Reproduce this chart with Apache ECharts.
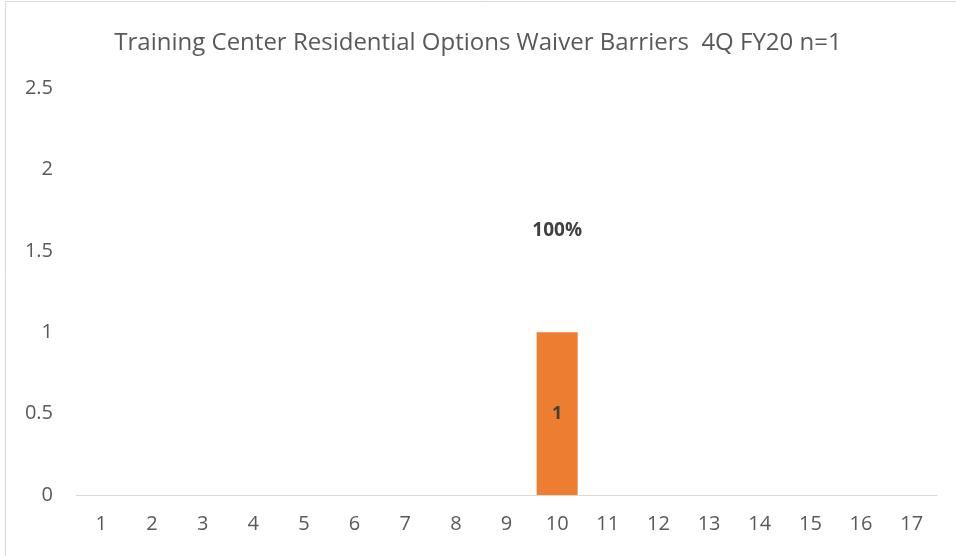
<!DOCTYPE html>
<html>
<head>
<meta charset="utf-8">
<script src="https://cdn.jsdelivr.net/npm/echarts@6/dist/echarts.min.js"></script>
<style>
  html, body { margin: 0; padding: 0; background: #fff; }
  #main { width: 956px; height: 556px; }
</style>
</head>
<body>
<div id="main"></div>
<script>
var categories = ['1', '2', '3', '4', '5', '6', '7', '8', '9', '10', '11', '12', '13', '14', '15', '16', '17'];
var counts = [0, 0, 0, 0, 0, 0, 0, 0, 0, 1, 0, 0, 0, 0, 0, 0, 0];
var percents = ['', '', '', '', '', '', '', '', '', '100%', '', '', '', '', '', '', ''];
var yTicks = [0, 0.5, 1, 1.5, 2, 2.5];

var myChart = echarts.init(document.getElementById('main'));
var font = 'Open Sans';

option = {
    animation: false,
    title: {
        text: 'Training Center Residential Options Waiver Barriers  4Q FY20 n=1',
        left: 'center',
        top: 26,
        textStyle: { fontFamily: font, fontSize: 24, fontWeight: 'normal', color: '#595959' }
    },
    graphic: [{
        type: 'polyline',
        shape: { points: [[5.5, 556], [5.5, 1.5], [956, 1.5]] },
        style: { stroke: '#d9d9d9', lineWidth: 1, fill: null },
        silent: true
    }],
    grid: { left: 76, right: 19, top: 88, bottom: 61 },
    xAxis: {
        type: 'category',
        data: categories,
        axisLine: { lineStyle: { color: '#d9d9d9', width: 1 } },
        axisTick: { show: false },
        axisLabel: { fontFamily: font, fontSize: 20, color: '#595959', margin: 19 }
    },
    yAxis: {
        type: 'value',
        min: yTicks[0],
        max: yTicks[yTicks.length - 1],
        interval: 0.5,
        splitLine: { show: false },
        axisLine: { show: false },
        axisTick: { show: false },
        axisLabel: { fontFamily: font, fontSize: 20, color: '#595959', margin: 23 }
    },
    series: [{
        name: 'Count',
        type: 'bar',
        data: counts,
        barWidth: '81%',
        itemStyle: { color: '#ED7D31' },
        label: {
            show: true,
            position: 'inside',
            fontFamily: font,
            fontSize: 18,
            fontWeight: 'bold',
            color: '#404040',
            formatter: function (p) { return p.value ? p.value : ''; }
        }
    }, {
        name: 'Percent',
        type: 'bar',
        data: counts,
        barWidth: '81%',
        barGap: '-100%',
        z: 1,
        itemStyle: { color: 'rgba(0,0,0,0)' },
        label: {
            show: true,
            position: 'top',
            distance: 92,
            fontFamily: font,
            fontSize: 19,
            fontWeight: 'bold',
            color: '#404040',
            formatter: function (p) { return percents[p.dataIndex]; }
        }
    }]
};

myChart.setOption(option);
</script>
</body>
</html>
